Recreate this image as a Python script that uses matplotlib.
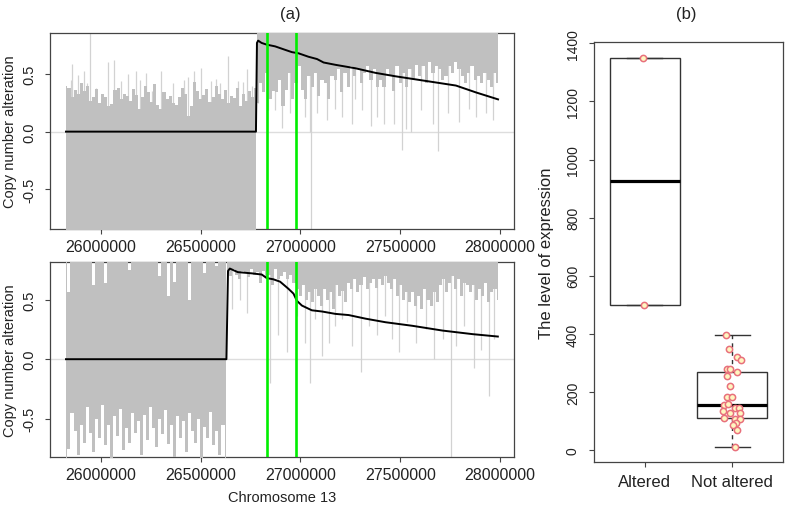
import numpy as np
import matplotlib.pyplot as plt

plt.rcParams['font.family'] = ['Liberation Sans', 'DejaVu Sans']

# ---------------- panel (a): copy number along chromosome 13 ----------------
xlim_a = (25745000, 28070000)
xticks_a = [26000000, 26500000, 27000000, 27500000, 28000000]
green_pos = [26830000, 26980000]

top_left_range = (25825000, 26777000)
top_left_hi = [0.40, 0.38, 0.30, 0.36, 0.33, 0.42, 0.35, 0.40, 0.27, 0.30, 0.37, 0.25, 0.33,
               0.30, 0.22, 0.24, 0.36, 0.38, 0.28, 0.33, 0.31, 0.27, 0.37, 0.32, 0.20, 0.30,
               0.40, 0.34, 0.26, 0.41, 0.23, 0.20, 0.34, 0.28, 0.31, 0.25, 0.23, 0.30, 0.38,
               0.33, 0.14, 0.22, 0.43, 0.35, 0.28, 0.32, 0.37, 0.26, 0.30, 0.40, 0.33, 0.28,
               0.36, 0.25, 0.31, 0.29, 0.38, 0.22, 0.33, 0.27, 0.35, 0.30, 0.38]
top_left_spike_pos = [25850000, 25855000, 25886000, 25916000, 25931000, 25946000, 25976000,
                      26037000, 26067000, 26102000, 26137000, 26178000, 26198000, 26228000,
                      26258000, 26299000, 26359000, 26414000, 26435000, 26465000, 26500000,
                      26550000, 26575000, 26596000, 26636000, 26686000, 26711000, 26731000,
                      26757000]
top_left_spike_val = [0.45, 0.59, 0.49, 0.53, 0.42, 0.95, 0.38, 0.60, 0.62, 0.44, 0.50, 0.53,
                      0.45, 0.51, 0.35, 0.53, 0.42, 0.45, 0.47, 0.53, 0.55, 0.44, 0.46, 0.42,
                      0.66, 0.44, 0.43, 0.54, 0.40]

top_right_range = (26782000, 27990000)
top_right_lo = [0.25, 0.42, 0.34, 0.51, 0.28, 0.35, 0.34, 0.45, 0.22, 0.36, 0.51, 0.28, 0.42,
                0.57, 0.36, 0.28, 0.48, 0.39, 0.51, 0.31, 0.45, 0.42, 0.28, 0.48, 0.45, 0.54,
                0.34, 0.51, 0.39, 0.57, 0.48, 0.54, 0.42, 0.51, 0.57, 0.45, 0.54, 0.39,
                0.45, 0.39, 0.54, 0.48, 0.35, 0.57, 0.42, 0.51, 0.39, 0.54, 0.45, 0.58, 0.48,
                0.57, 0.42, 0.60, 0.51, 0.57, 0.54, 0.45, 0.48, 0.57, 0.51, 0.60, 0.54, 0.48,
                0.42, 0.51, 0.57, 0.45, 0.48, 0.42, 0.51, 0.45, 0.39, 0.51, 0.42]
top_right_spike_pos = [26788000, 26839000, 26873000, 26906000, 26948000, 27024000, 27049000,
                       27051000, 27083000, 27133000, 27175000, 27208000, 27259000, 27275000,
                       27309000, 27351000, 27385000, 27418000, 27468000, 27511000, 27527000,
                       27552000, 27603000, 27662000, 27687000, 27737000, 27796000, 27846000,
                       27880000, 27930000, 27964000]
top_right_spike_val = [0.25, 0.19, 0.19, 0.03, 0.16, 0.13, 0.0, -0.95, 0.16, 0.10, 0.20, 0.13,
                       0.07, 0.28, 0.19, 0.05, 0.13, 0.07, 0.07, -0.16, 0.02, 0.0, 0.19, 0.07,
                       -0.17, 0.16, 0.08, 0.20, 0.13, 0.16, 0.10]

top_line_pos = [25825000, 26777000, 26782000, 26788000, 26805000, 26831000, 26873000, 26923000,
                26957000, 26990000, 27040000, 27083000, 27116000, 27175000, 27275000, 27376000,
                27477000, 27628000, 27779000, 27880000, 27990000]
top_line_val = [0.0, 0.0, 0.77, 0.79, 0.77, 0.755, 0.74, 0.71, 0.69, 0.68, 0.65, 0.63, 0.60,
                0.58, 0.55, 0.51, 0.48, 0.44, 0.40, 0.34, 0.28]

# bottom track
bot_left_range = (25825000, 26627000)
bot_left_lo = [-0.85, -0.75, -0.45, -0.60, -0.80, -0.55, -0.70, -0.40, -0.62, -0.78, -0.50,
               -0.66, -0.38, -0.72, -0.55, -0.85, -0.48, -0.64, -0.42, -0.76, -0.58, -0.70,
               -0.45, -0.62, -0.52, -0.80, -0.47, -0.68, -0.40, -0.58, -0.74, -0.50, -0.63,
               -0.43, -0.71, -0.55, -0.82, -0.48, -0.66, -0.52, -0.78, -0.45, -0.60, -0.70,
               -0.50, -0.85, -0.57, -0.66, -0.44, -0.72, -0.60, -0.80, -0.55, -0.85]
bot_left_hi = [0.90, 0.56, 0.90, 0.90, 0.90, 0.90, 0.90, 0.90, 0.90, 0.62, 0.90, 0.90, 0.90,
               0.64, 0.90, 0.90, 0.90, 0.90, 0.90, 0.90, 0.90, 0.75, 0.90, 0.90, 0.90, 0.90,
               0.90, 0.90, 0.90, 0.90, 0.90, 0.70, 0.90, 0.90, 0.53, 0.90, 0.65, 0.90, 0.90,
               0.90, 0.90, 0.50, 0.90, 0.90, 0.90, 0.90, 0.72, 0.90, 0.90, 0.90, 0.78, 0.90,
               0.90, 0.90]

bot_right_range = (26632000, 27990000)
bot_right_lo = [0.74, 0.70, 0.76, 0.71, 0.67, 0.74, 0.73, 0.69, 0.76, 0.71,
                0.73, 0.64, 0.74, 0.69, 0.71, 0.62, 0.76, 0.67, 0.70, 0.73,
                0.67, 0.71, 0.64, 0.59, 0.53, 0.62, 0.50, 0.56, 0.48, 0.59,
                0.53, 0.45, 0.59, 0.50, 0.56, 0.42, 0.62, 0.53, 0.57, 0.48,
                0.64, 0.59, 0.67, 0.56, 0.62, 0.69, 0.59, 0.64, 0.67, 0.60,
                0.67, 0.62, 0.70, 0.64, 0.59, 0.67, 0.53, 0.62, 0.50, 0.56,
                0.48, 0.56, 0.45, 0.53, 0.42, 0.59, 0.50, 0.45, 0.56, 0.48,
                0.62, 0.67, 0.56, 0.64, 0.70, 0.59, 0.67, 0.53, 0.64, 0.62,
                0.56, 0.62, 0.50, 0.59, 0.53, 0.64, 0.48, 0.56, 0.59, 0.50]
bot_right_spike_pos = [26655000, 26696000, 26730000, 26847000, 26889000, 26932000, 26982000,
                       27024000, 27049000, 27074000, 27108000, 27141000, 27175000, 27208000,
                       27259000, 27301000, 27342000, 27385000, 27426000, 27460000, 27493000,
                       27536000, 27578000, 27628000, 27670000, 27712000, 27754000, 27779000,
                       27821000, 27871000, 27905000, 27947000, 27972000]
bot_right_spike_val = [0.42, 0.50, 0.39, -0.20, 0.20, 0.06, 0.36, 0.14, -0.20, 0.34, 0.03,
                       0.14, 0.28, 0.34, 0.11, -0.11, 0.28, 0.20, 0.36, 0.17, 0.06, 0.31,
                       0.14, 0.25, 0.0, 0.17, -0.95, 0.11, 0.28, -0.07, 0.08, -0.31, 0.17]

bot_line_pos = [25825000, 26629000, 26637000, 26646000, 26686000, 26755000, 26806000, 26831000,
                26864000, 26898000, 26940000, 26965000, 26982000, 27007000, 27057000, 27108000,
                27175000, 27242000, 27326000, 27426000, 27561000, 27712000, 27863000, 27989000]
bot_line_val = [0.0, 0.0, 0.74, 0.76, 0.73, 0.72, 0.71, 0.68, 0.67, 0.65, 0.59, 0.55, 0.49,
                0.45, 0.41, 0.40, 0.38, 0.37, 0.34, 0.31, 0.28, 0.24, 0.21, 0.19]

# ---------------- panel (b): expression by alteration status ----------------
groups = ['Altered', 'Not altered']
altered_expr = [1350, 500]
altered_x = [0.977, 0.99]
not_altered_expr = [398, 350, 320, 310, 280, 280, 271, 256, 221, 182, 182, 156, 160, 145, 145,
                    134, 128, 128, 111, 108, 107, 94, 86, 71, 10]
not_altered_x = [1.924, 1.962, 2.058, 2.096, 1.943, 1.974, 2.05, 1.943, 1.974, 1.943, 2.0,
                 1.905, 1.954, 2.031, 2.077, 1.897, 1.974, 2.088, 1.905, 2.031, 2.088, 2.043,
                 2.012, 2.058, 2.031]

body_col = '#c0c0c0'
spike_col = '#d2d2d2'
frame_col = '#444444'
text_col = '#222222'


def spread(rng, vals):
    return np.linspace(rng[0], rng[1], len(vals))


def fivenum(v):
    # Tukey hinges, same as R's boxplot
    v = np.sort(np.asarray(v, float))
    n = len(v)
    n4 = np.floor((n + 3) / 2) / 2
    d = np.array([1, n4, (n + 1) / 2, n + 1 - n4, n]) - 1
    return 0.5 * (v[np.floor(d).astype(int)] + v[np.ceil(d).astype(int)])


def style_axes(ax, lab_size):
    for s in ax.spines.values():
        s.set_color(frame_col)
        s.set_linewidth(0.9)
    ax.tick_params(direction='out', length=3.6, width=0.8, color=frame_col,
                   labelcolor=text_col)
    ax.tick_params(axis='x', pad=3.5, labelsize=lab_size)


def copy_panel(ax, ylim, line_pos, line_val):
    ax.axhline(0, color='#dddddd', lw=1, zorder=1)
    ax.plot(line_pos, line_val, color='black', lw=1.4, zorder=5)
    for g in green_pos:
        ax.axvline(g, color='#00ee00', lw=1.9, zorder=6)
    ax.set_xlim(*xlim_a)
    ax.set_ylim(*ylim)
    ax.set_xticks(xticks_a)
    ax.set_xticklabels([str(t) for t in xticks_a])
    ax.set_yticks([-0.5, 0.0, 0.5])
    ax.set_yticklabels(['-0.5', '0.0', '0.5'])
    style_axes(ax, 11.5)
    ax.tick_params(axis='y', pad=6.5, labelsize=10.5)
    for lab in ax.get_yticklabels():
        lab.set_rotation(90)
        lab.set_va('center')
    ax.set_ylabel('Copy number alteration', fontsize=10.5, color=text_col, va='center')
    ax.yaxis.set_label_coords(-0.087, 0.5)


fig = plt.figure(figsize=(7.87, 5.06), dpi=100)

# top track
ax1 = fig.add_axes([50 / 787, 1 - 230 / 506, 464 / 787, 196 / 506])
ax1.vlines(top_left_spike_pos, -1, top_left_spike_val, color=spike_col, lw=0.9, zorder=2)
ax1.vlines(top_right_spike_pos, top_right_spike_val, 1, color=spike_col, lw=0.9, zorder=2)
ax1.fill_between(spread(top_left_range, top_left_hi), -1, top_left_hi, step='mid',
                 color=body_col, lw=0, zorder=3)
ax1.fill_between(spread(top_right_range, top_right_lo), top_right_lo, 1, step='mid',
                 color=body_col, lw=0, zorder=3)
copy_panel(ax1, (-0.845, 0.856), top_line_pos, top_line_val)

# bottom track
ax2 = fig.add_axes([50 / 787, 1 - 458 / 506, 464 / 787, 195 / 506])
ax2.vlines(bot_right_spike_pos, bot_right_spike_val, 1, color=spike_col, lw=0.9, zorder=2)
ax2.fill_between(spread(bot_left_range, bot_left_lo), bot_left_lo, bot_left_hi, step='mid',
                 color=body_col, lw=0, zorder=3)
ax2.fill_between(spread(bot_right_range, bot_right_lo), bot_right_lo, 1, step='mid',
                 color=body_col, lw=0, zorder=3)
copy_panel(ax2, (-0.82, 0.815), bot_line_pos, bot_line_val)
ax2.set_xlabel('Chromosome 13', fontsize=10.5, color=text_col, labelpad=6)

# panel (b)
ax3 = fig.add_axes([594 / 787, 1 - 463 / 506, 189 / 787, 420 / 506])
stats = []
for name, vals in zip(groups, [altered_expr, not_altered_expr]):
    mn, q1, med, q3, mx = fivenum(vals)
    iqr = q3 - q1
    lo = min(v for v in vals if v >= q1 - 1.5 * iqr)
    hi = max(v for v in vals if v <= q3 + 1.5 * iqr)
    stats.append(dict(label=name, med=med, q1=q1, q3=q3, whislo=lo, whishi=hi, fliers=[]))
ax3.bxp(stats, positions=[1, 2], widths=0.8, showfliers=False, patch_artist=True,
        boxprops=dict(facecolor='white', edgecolor='#333333', lw=1),
        medianprops=dict(color='black', lw=2.3),
        whiskerprops=dict(color='#333333', lw=1, linestyle=(0, (3, 3))),
        capprops=dict(color='#333333', lw=1))
ax3.plot(altered_x, altered_expr, 'o', ms=4.5, mfc='#fff6c0', mec='#e8707c', mew=1.1, zorder=5)
ax3.plot(not_altered_x, not_altered_expr, 'o', ms=4.5, mfc='#fff6c0', mec='#e8707c', mew=1.1,
         zorder=5)
ax3.set_xlim(0.42, 2.58)
ax3.set_ylim(-40, 1404)
ax3.set_yticks(range(0, 1401, 200))
ax3.set_xticks([1, 2])
ax3.set_xticklabels(groups)
style_axes(ax3, 12)
ax3.tick_params(axis='x', pad=5)
ax3.tick_params(axis='y', pad=6.5, labelsize=10)
for lab in ax3.get_yticklabels():
    lab.set_rotation(90)
    lab.set_va('center')
ax3.set_ylabel('The level of expression', fontsize=12, color=text_col, va='center')
ax3.yaxis.set_label_coords(-0.249, 0.5)

fig.text(290 / 787, 1 - 14 / 506, '(a)', ha='center', va='center', fontsize=12, color=text_col)
fig.text(686 / 787, 1 - 14 / 506, '(b)', ha='center', va='center', fontsize=12, color=text_col)

fig.savefig('out.png', dpi=100)
